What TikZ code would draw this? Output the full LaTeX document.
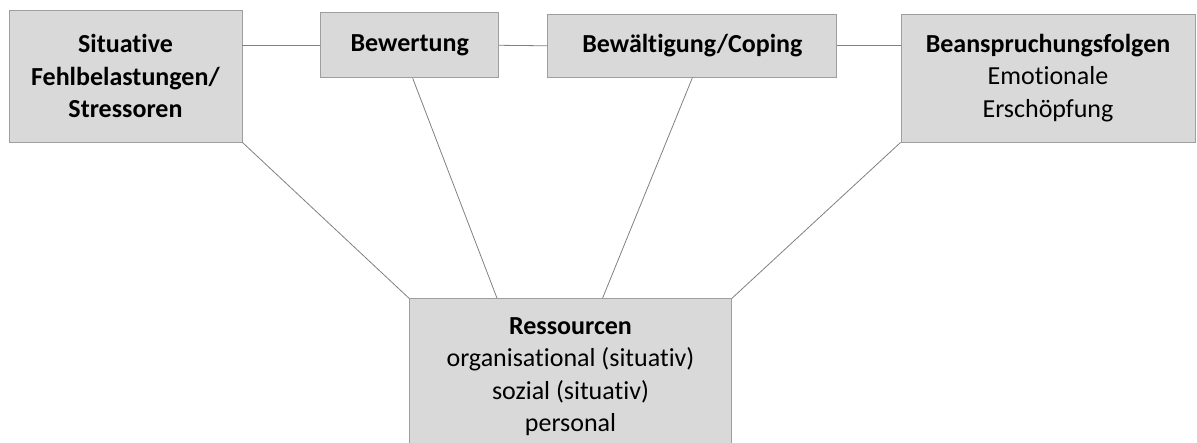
\documentclass[tikz,border=0pt]{standalone}
\usepackage{fontspec}
\setmainfont{Carlito}[Ligatures=NoCommon]
\usetikzlibrary{positioning}

\begin{document}
\begin{tikzpicture}[x=1pt,y=-1pt,
              box/.style={draw=black!38,fill=black!15,line width=0.9pt,inner sep=0pt,
                          align=center,font=\fontsize{26}{32.3}\selectfont},
              link/.style={draw=black!50,line width=0.8pt}
            ]
              \useasboundingbox (0,0) rectangle (1197,443);
              \node[box,minimum width=233pt,minimum height=132pt] (stress) at (125.5,76)
                {\textbf{Situative}\\\textbf{Fehlbelastungen/}\\\textbf{Stressoren}};
              \node[box,minimum width=178pt,minimum height=65pt] (bewert) at (409.7,45.3)
                {\textbf{Bewertung}};
              \node[box,minimum width=289pt,minimum height=63pt] (coping) at (692.4,45.8)
                {\textbf{Bewältigung/Coping}};
              \node[box,minimum width=294pt,minimum height=128pt] (folgen) at (1048,78)
                {\textbf{Beanspruchungsfolgen}\\Emotionale\\Erschöpfung};
              \node[box,minimum width=322pt,minimum height=170pt,anchor=north] (ress) at (570.5,298.3) {};
              \node[box,draw=none,fill=none,anchor=north] (resstext) at ([yshift=-19pt]ress.north)
                {\textbf{Ressourcen}\\organisational (situativ)\\sozial (situativ)\\personal};
              % Verbindungen oben
              \draw[link] (bewert.west) -- (bewert.west -| stress.east);
              \draw[link] (bewert.east) -- (coping.west);
              \draw[link] (coping.east) -- (coping.east -| folgen.west);
              % Verbindungen zu den Ressourcen
              \draw[link] (stress.south east) -- (ress.north west);
              \draw[link] ([xshift=3pt]bewert.south) -- ([xshift=88pt]ress.north west);
              \draw[link] (coping.south) -- ([xshift=32pt]ress.north);
              \draw[link] (folgen.south west) -- (ress.north east);
            \end{tikzpicture}
\end{document}
